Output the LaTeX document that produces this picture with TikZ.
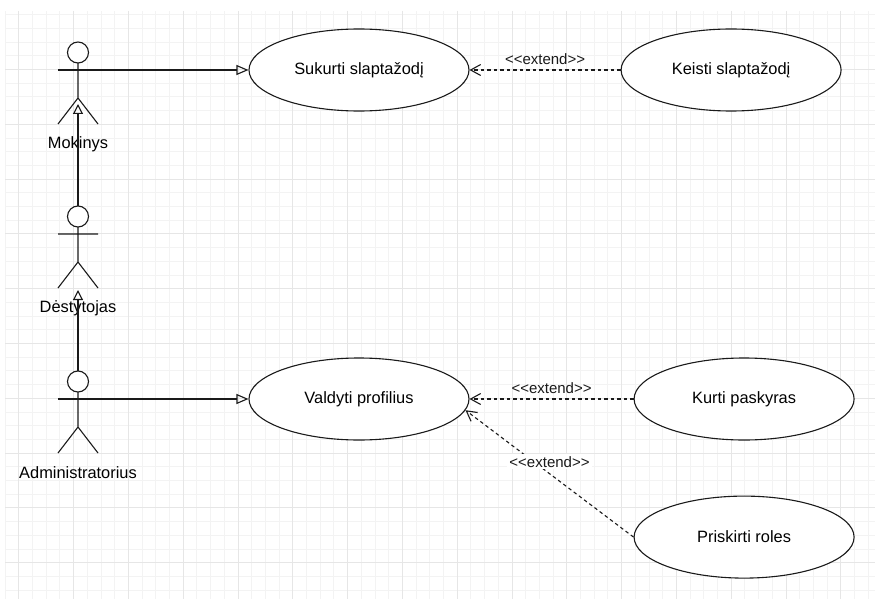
\documentclass[tikz,border=0pt]{standalone}
\usepackage{fontspec}
\setmainfont{Liberation Sans}[Ligatures=TeXOff]
\usepackage{xcolor}
\definecolor{gridminor}{HTML}{F3F3F3}
\definecolor{gridmajor}{HTML}{E6E6E6}
\definecolor{umlline}{HTML}{1A1A1A}
\usepackage{tikz}
\usetikzlibrary{shapes.geometric, arrows.meta, positioning}

\begin{document}
\begin{tikzpicture}[x=1pt, y=-1pt,
  usecase/.style={ellipse, draw=umlline, line width=1.1pt, fill=white,
    minimum width=220pt, minimum height=82pt, inner sep=0pt,
    font=\fontsize{16.4}{19.7}\selectfont},
  figline/.style={draw=umlline, line width=1.1pt},
  actorname/.style={inner sep=1pt, font=\fontsize{16.4}{19.7}\selectfont},
  extlabel/.style={inner sep=2pt, font=\fontsize{15}{18}\selectfont},
  assoc/.style={-{Triangle[open, length=12pt, width=10pt]}, line width=1.1pt, umlline},
  gen/.style={-{Triangle[open, length=10pt, width=10pt]}, line width=1.1pt, umlline},
  ext/.style={-{Straight Barb[length=10pt, width=11pt]}, line width=1.1pt, umlline,
    dash pattern=on 3.5pt off 3pt},
  actor/.pic={
    \draw[figline, fill=white] (0,10.5) circle[radius=10.5pt];
    \draw[figline] (0,21) -- (0,56) (-20,28) -- (20,28)
      (-20,82) -- (0,56) -- (20,82);
    \coordinate (-top) at (0,0);
    \coordinate (-arm) at (-20,28);
    \coordinate (-base) at (0,82);
    \node[actorname] (-name) at (0,102) {#1};
  }
]
\useasboundingbox (0,0) rectangle (875,599);
\foreach \k in {0,...,63}
  \draw[gridminor, line width=0.7pt] ({5+13.7*\k},11) -- ({5+13.7*\k},599);
\foreach \k in {0,...,42}
  \draw[gridminor, line width=0.7pt] (5,{14.6+13.7*\k}) -- (875,{14.6+13.7*\k});
\foreach \k in {1,5,...,61}
  \draw[gridmajor, line width=0.7pt] ({5+13.7*\k},11) -- ({5+13.7*\k},599);
\foreach \k in {4,8,...,40}
  \draw[gridmajor, line width=0.7pt] (5,{14.6+13.7*\k}) -- (875,{14.6+13.7*\k});

\node[usecase] (suk) at (359,70) {Sukurti slaptažodį};
\node[usecase, right=151pt of suk] (kei) {Keisti slaptažodį};
\node[usecase] (val) at (359,399) {Valdyti profilius};
\node[usecase, right=164pt of val] (kur) {Kurti paskyras};
\node[usecase, below=55pt of kur] (pri) {Priskirti roles};

\pic (mok) at (78,42) {actor=Mokinys};
\pic (des) at (78,206) {actor=Dėstytojas};
\pic (adm) at (78,371) {actor=Administratorius};

\draw[assoc] (mok-arm) -- (suk.west);
\draw[assoc] (adm-arm) -- (val.west);
\draw[gen] (des-top) -- ([yshift=20pt]mok-base);
\draw[gen] (adm-top) -- ([yshift=-2pt]des-base);

\draw[ext] (kei.west) -- (suk.east)
  node[extlabel, midway, above=3pt] (ext1) {<<extend>>};
\draw[ext] (kur.west) -- (val.east)
  node[extlabel, midway, above=3pt] (ext2) {<<extend>>};
\draw[ext] (pri.west) -- (val.-6)
  node[extlabel, fill=white, pos=0.5, yshift=12pt] (ext3) {<<extend>>};
\end{tikzpicture}
\end{document}
